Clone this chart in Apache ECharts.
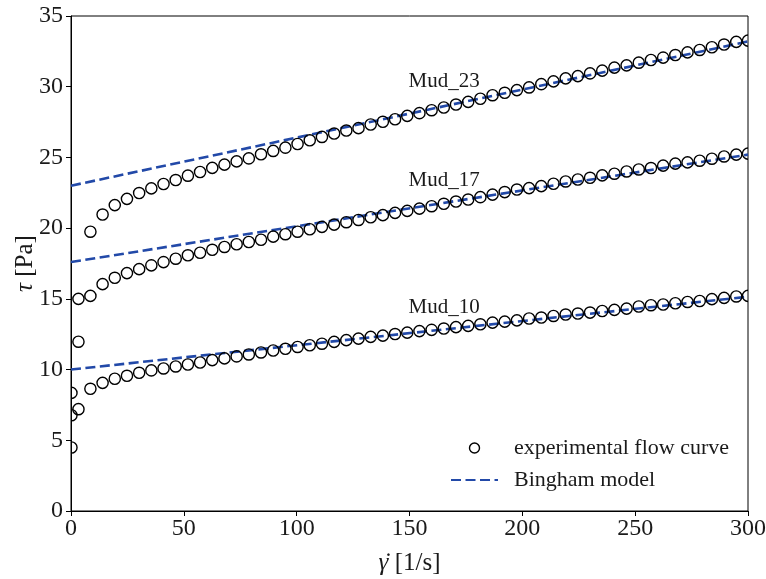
<!DOCTYPE html>
<html>
<head>
<meta charset="utf-8">
<script src="https://cdn.jsdelivr.net/npm/echarts@6/dist/echarts.min.js"></script>
<style>
  html, body { margin: 0; padding: 0; background: #fff; }
  #chart { width: 766px; height: 579px; }
</style>
</head>
<body>
<div id="chart"></div>
<script>
// shear rate [1/s], shared by all three muds
const shearRate = [0.2, 3.3,
  8.6, 14.0, 19.4, 24.8, 30.2, 35.6, 41.0, 46.4, 51.8, 57.2,
  62.6, 68.0, 73.4, 78.8, 84.2, 89.6, 95.0, 100.4, 105.8, 111.2,
  116.6, 122.0, 127.4, 132.8, 138.2, 143.6, 149.0, 154.4, 159.8, 165.2,
  170.6, 176.0, 181.4, 186.8, 192.2, 197.6, 203.0, 208.4, 213.8, 219.2,
  224.6, 230.0, 235.4, 240.8, 246.2, 251.6, 257.0, 262.4, 267.8, 273.2,
  278.6, 284.0, 289.4, 294.8, 300.0]

// measured shear stress [Pa]
const mud10 = [4.49, 7.20,
  8.64, 9.06, 9.35, 9.56, 9.77, 9.94, 10.08, 10.22, 10.36, 10.50,
  10.67, 10.79, 10.93, 11.07, 11.21, 11.35, 11.47, 11.60, 11.72, 11.83,
  11.96, 12.08, 12.19, 12.31, 12.40, 12.51, 12.61, 12.72, 12.81, 12.90,
  13.00, 13.09, 13.20, 13.32, 13.39, 13.48, 13.61, 13.68, 13.79, 13.89,
  13.96, 14.03, 14.14, 14.22, 14.31, 14.46, 14.55, 14.60, 14.69, 14.78,
  14.85, 14.98, 15.07, 15.17, 15.21]
const mud17 = [6.77, 11.97,
  15.21, 16.04, 16.49, 16.82, 17.10, 17.37, 17.60, 17.84, 18.08, 18.26,
  18.47, 18.67, 18.86, 19.02, 19.18, 19.40, 19.57, 19.75, 19.92, 20.09,
  20.25, 20.42, 20.58, 20.77, 20.92, 21.08, 21.22, 21.38, 21.55, 21.72,
  21.88, 22.02, 22.19, 22.37, 22.55, 22.73, 22.83, 22.97, 23.14, 23.30,
  23.44, 23.56, 23.73, 23.85, 24.01, 24.15, 24.25, 24.42, 24.56, 24.65,
  24.77, 24.91, 25.07, 25.20, 25.27]
const mud23 = [8.35, 15.00,
  19.75, 20.96, 21.63, 22.07, 22.48, 22.81, 23.12, 23.40, 23.71, 23.97,
  24.26, 24.49, 24.72, 24.93, 25.22, 25.46, 25.69, 25.95, 26.21, 26.45,
  26.69, 26.90, 27.07, 27.33, 27.52, 27.70, 27.94, 28.13, 28.34, 28.53,
  28.74, 28.93, 29.15, 29.40, 29.57, 29.76, 29.95, 30.18, 30.38, 30.59,
  30.75, 30.94, 31.14, 31.35, 31.51, 31.70, 31.89, 32.06, 32.24, 32.43,
  32.60, 32.79, 32.98, 33.17, 33.26]

// Bingham fits: stress at shear rate 0 and 300
const binghamX = [0, 300]
const bingham10 = [10.0, 15.15]
const bingham17 = [17.6, 25.2]
const bingham23 = [23.0, 33.2]

const mudNames = ['Mud_10', 'Mud_17', 'Mud_23']
const xTicks = [0, 50, 100, 150, 200, 250, 300]
const yTicks = [0, 5, 10, 15, 20, 25, 30, 35]

// where the mud names sit (data coords, text baseline)
const labelX = 150
const labelY = [14, 23, 30]

const FONT = '"Liberation Serif", "DejaVu Serif", serif'
const BLUE = '#2249a8'
const INK = '#1a1a1a'
const EXP = 'experimental flow curve'
const FIT = 'Bingham model'

const pairs = (xs, ys) => xs.map((x, i) => [x, ys[i]])

const lineSeries = ys => ({
  name: FIT,
  type: 'line',
  data: pairs(binghamX, ys),
  symbol: 'none',
  z: 1,
  silent: true,
  lineStyle: { color: BLUE, width: 2.6, type: [10, 4.5] },
  itemStyle: { color: BLUE }
})

// open circles, clipped to the plot box like matplotlib does
const circleSeries = ys => ({
  name: EXP,
  type: 'custom',
  clip: true,
  z: 2,
  silent: true,
  data: pairs(shearRate, ys),
  renderItem: (params, api) => {
    const p = api.coord([api.value(0), api.value(1)])
    return {
      type: 'circle',
      shape: { cx: p[0], cy: p[1], r: 5.6 },
      style: { fill: 'none', stroke: '#000', lineWidth: 1.4 }
    }
  }
})

const titleRich = {
  i: { fontFamily: FONT, fontStyle: 'italic', fontSize: 25, color: INK },
  d: { fontFamily: FONT, fontSize: 25, color: INK, width: 0, align: 'right' }
}

const chart = echarts.init(document.getElementById('chart'), null, { renderer: 'canvas' })

const option = {
  animation: false,
  backgroundColor: '#fff',
  textStyle: { fontFamily: FONT },
  grid: {
    left: 71, right: 18, top: 16, bottom: 68,
    outerBoundsMode: 'none',
    containLabel: false,
    show: true, borderColor: '#000', borderWidth: 1
  },
  legend: {
    orient: 'vertical',
    left: 445,
    top: 432,
    itemWidth: 47,
    itemHeight: 10,
    itemGap: 10,
    textStyle: { fontFamily: FONT, fontSize: 22, color: INK, padding: [0, 0, 0, 11] },
    data: [
      { name: EXP, icon: 'circle', itemStyle: { color: 'transparent', borderColor: '#000', borderWidth: 1.4 } },
      { name: FIT, itemStyle: { opacity: 0 } }
    ]
  },
  xAxis: {
    type: 'value',
    min: 0, max: 300, interval: 50,
    name: '{i|γ}{d|˙} [1/s]',
    nameLocation: 'middle',
    nameGap: 40,
    nameTextStyle: { fontFamily: FONT, fontSize: 25, color: INK, rich: titleRich },
    axisLine: { show: true, lineStyle: { color: '#000', width: 1 } },
    axisTick: { show: true, inside: false, length: 5, lineStyle: { color: '#000' } },
    axisLabel: {
      color: INK, fontFamily: FONT, fontSize: 24, margin: 6,
      formatter: v => (xTicks.includes(v) ? String(v) : '')
    },
    splitLine: { show: false }
  },
  yAxis: {
    type: 'value',
    min: 0, max: 35, interval: 5,
    name: '{i|τ} [Pa]',
    nameLocation: 'middle',
    nameMoveOverlap: false,
    nameGap: 33,
    nameTextStyle: { fontFamily: FONT, fontSize: 25, color: INK, rich: titleRich },
    axisLine: { show: true, lineStyle: { color: '#000', width: 1 } },
    axisTick: { show: true, inside: false, length: 5, lineStyle: { color: '#000' } },
    axisLabel: {
      color: INK, fontFamily: FONT, fontSize: 24, margin: 8,
      formatter: v => (yTicks.includes(v) ? String(v) : '')
    },
    splitLine: { show: false }
  },
  series: [
    lineSeries(bingham10),
    lineSeries(bingham17),
    lineSeries(bingham23),
    circleSeries(mud10),
    circleSeries(mud17),
    circleSeries(mud23),
    {
      name: 'names',
      type: 'custom',
      silent: true,
      z: 3,
      data: mudNames.map((n, i) => [labelX, labelY[i], n]),
      renderItem: (params, api) => {
        const p = api.coord([api.value(0), api.value(1)])
        return {
          type: 'text',
          x: p[0] - 1,
          y: p[1] + 5,
          style: {
            text: mudNames[params.dataIndex],
            fontFamily: FONT,
            fontSize: 21,
            fill: INK,
            align: 'left',
            verticalAlign: 'bottom'
          }
        }
      }
    }
  ]
}

chart.setOption(option)
</script>
</body>
</html>
